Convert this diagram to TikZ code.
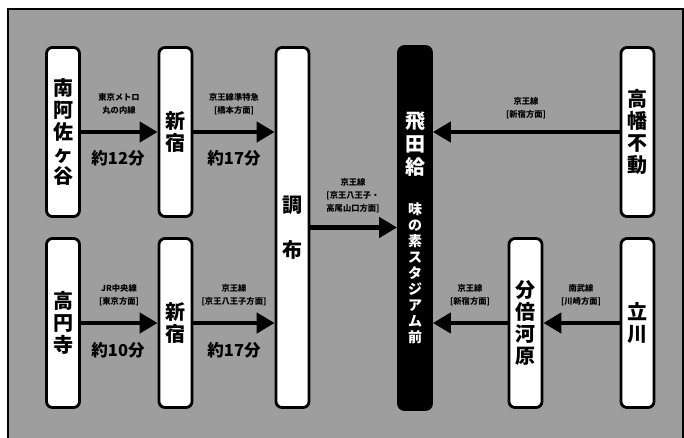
\documentclass[tikz,border=0pt]{standalone}
\usepackage{fontspec}
\newfontfamily\cjk{Noto Sans CJK JP}
\usetikzlibrary{arrows.meta}
\tikzset{
  stbox/.style={draw=black, line width=2.8pt, rounded corners=6pt, fill=white,
    minimum width=33pt, inner sep=0pt, align=center,
    font=\cjk\bfseries\fontsize{20}{22}\selectfont},
  blackbox/.style={draw=black, line width=2.8pt, rounded corners=6pt, fill=black,
    minimum width=33pt, inner sep=0pt},
  arr/.style={line width=4.8pt, -{Triangle[length=18pt,width=20pt]}},
  lbl/.style={font=\cjk\bfseries\fontsize{8.3}{13}\selectfont, align=center, inner sep=0pt},
  tm/.style={font=\cjk\bfseries\fontsize{16.5}{18}\selectfont, inner sep=0pt}
}
\begin{document}
\begin{tikzpicture}[x=1pt,y=-1pt]
\useasboundingbox (0,0) rectangle (684,437);
\fill[white] (0,0) rectangle (684,437);
\draw[line width=2pt, fill=black!38] (8,9) rectangle (683,445);
% boxes
\node[stbox, minimum height=169pt] (nas) at (63,132) {南\\阿\\佐\\ヶ\\谷};
\node[stbox, minimum height=169pt] (shj1) at (175.5,132) {新\\宿};
\node[stbox, minimum height=360pt, font=\cjk\bfseries\fontsize{20}{45}\selectfont] (chofu) at (292.5,227.5) {調\\布};
\node[blackbox, minimum height=363pt] (tobi) at (415,228) {};
\node[stbox, minimum height=169pt] (taka) at (637.5,132) {高\\幡\\不\\動};
\node[stbox, minimum height=169pt] (koen) at (63,323) {高\\円\\寺};
\node[stbox, minimum height=169pt] (shj2) at (175.5,323) {新\\宿};
\node[stbox, minimum height=169pt] (bubai) at (525.5,323) {分\\倍\\河\\原};
\node[stbox, minimum height=169pt] (tachi) at (637.5,323) {立\\川};
% black box texts
\node[text=white, align=center, inner sep=0pt, font=\cjk\bfseries\fontsize{20}{23}\selectfont] (tobit) at (415,144) {飛\\田\\給};
\node[text=white, align=center, inner sep=0pt, font=\cjk\bfseries\fontsize{14}{16}\selectfont] (ajit) at (415,273) {味\\の\\素\\ス\\タ\\ジ\\ア\\ム\\前};
% arrows
\draw[arr] (nas.east) -- (shj1.west);
\draw[arr] (shj1.east) -- (chofu.west |- shj1.east);
\draw[arr] (chofu.east) -- (tobi.west |- chofu.east);
\draw[arr] (taka.west) -- (tobi.east |- taka.west);
\draw[arr] (koen.east) -- (shj2.west);
\draw[arr] (shj2.east) -- (chofu.west |- shj2.east);
\draw[arr] (bubai.west) -- (tobi.east |- bubai.west);
\draw[arr] (tachi.west) -- (bubai.east);
% labels
\node[lbl] (l1) at (119,104) {東京メトロ\\丸の内線};
\node[tm] (t1) at (118,158) {約12分};
\node[lbl] (l2) at (234,104) {京王線準特急\\{[}橋本方面{]}};
\node[tm] (t2) at (234,158) {約17分};
\node[lbl] (l3) at (353,196) {京王線\\{[}京王八王子・\\高尾山口方面{]}};
\node[lbl] (l4) at (526,108) {京王線\\{[}新宿方面{]}};
\node[lbl] (l5) at (119,295) {JR中央線\\{[}東京方面{]}};
\node[tm] (t5) at (118,350) {約10分};
\node[lbl] (l6) at (234,295) {京王線\\{[}京王八王子方面{]}};
\node[tm] (t6) at (234,350) {約17分};
\node[lbl] (l7) at (470,295) {京王線\\{[}新宿方面{]}};
\node[lbl] (l8) at (581,295) {南武線\\{[}川崎方面{]}};
\end{tikzpicture}
\end{document}
